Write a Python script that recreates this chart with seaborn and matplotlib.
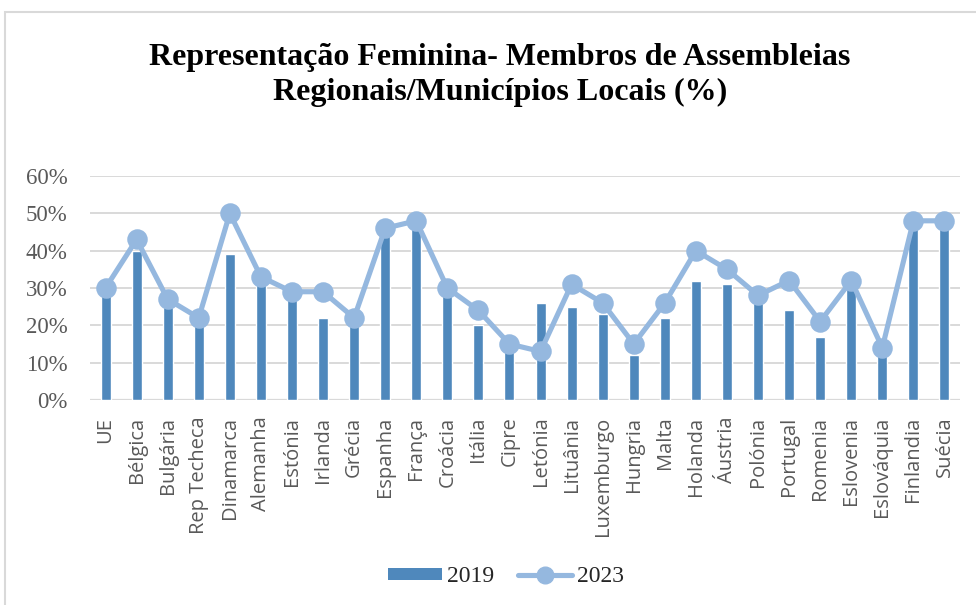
import matplotlib
matplotlib.use("Agg")
import matplotlib.pyplot as plt
import seaborn as sns
import pandas as pd
from matplotlib.patches import Patch, Rectangle
from matplotlib.lines import Line2D
from matplotlib.ticker import PercentFormatter

paises = ["UE", "Bélgica", "Bulgária", "Rep Techeca", "Dinamarca", "Alemanha", "Estónia",
          "Irlanda", "Grécia", "Espanha", "França", "Croácia", "Itália", "Cipre", "Letónia",
          "Lituânia", "Luxemburgo", "Hungria", "Malta", "Holanda", "Áustria", "Polónia",
          "Portugal", "Romenia", "Eslovenia", "Eslováquia", "Finlandia", "Suécia"]
v2019 = [28, 40, 25, 21, 39, 31, 29, 22, 21, 45, 47, 28, 20, 14, 26, 25, 23, 12, 22, 32,
         31, 26, 24, 17, 30, 13, 47, 47]
v2023 = [30, 43, 27, 22, 50, 33, 29, 29, 22, 46, 48, 30, 24, 15, 13, 31, 26, 15, 26, 40,
         35, 28, 32, 21, 32, 14, 48, 48]
titulo = "Representação Feminina- Membros de Assembleias\nRegionais/Municípios Locais (%)"
series = ["2019", "2023"]

df = pd.DataFrame({"pais": paises, "v2019": v2019, "v2023": v2023})

sns.set_theme(style="white")
plt.rcParams["font.family"] = ["Liberation Serif", "DejaVu Serif"]

bar_color = "#4F88BC"
line_color = "#95B8DF"

fig = plt.figure(figsize=(9.76, 6.05), dpi=100)
fig.patch.set_facecolor("white")
ax = fig.add_axes([90/976, 1-400/605, 870/976, 224/605])

sns.barplot(data=df, x="pais", y="v2019", color=bar_color, width=0.32,
            saturation=1, ax=ax, zorder=2)
sns.pointplot(data=df, x="pais", y="v2023", color=line_color, markers="o",
              markersize=12, linewidth=3.7, ax=ax, zorder=3)

ax.set_ylim(0, 60)
ax.set_xlim(-0.5, len(paises) - 0.5)
ax.set_yticks(range(0, 61, 10))
ax.yaxis.set_major_formatter(PercentFormatter(decimals=0))
ax.grid(axis="y", color="#D9D9D9", linewidth=1.4, zorder=0)
ax.set_axisbelow(True)
for s in ["top", "right", "left", "bottom"]:
    ax.spines[s].set_visible(False)
ax.axhline(0, color="#D9D9D9", linewidth=1.6, zorder=1)
ax.set_xlabel("")
ax.set_ylabel("")
ax.tick_params(axis="y", labelsize=16.5, labelcolor="#595959", length=0, pad=16)
ax.tick_params(axis="x", labelsize=14.5, labelcolor="#595959", length=0, pad=12)
for lab in ax.get_xticklabels():
    lab.set_rotation(90)
    lab.set_fontfamily(["Open Sans", "DejaVu Sans"])

fig.text(500/976, 1-75/605, titulo, ha="center", va="center", fontsize=23,
         fontweight="bold", linespacing=1.28, color="black")

handles = [Patch(facecolor=bar_color, edgecolor="none"),
           Line2D([0], [0], color=line_color, linewidth=3.7, marker="o", markersize=12)]
fig.legend(handles, series, loc="center", bbox_to_anchor=(506/976, 1-577/605), ncol=2,
           frameon=False, fontsize=17, handlelength=2.3, handleheight=0.45,
           columnspacing=1.0, handletextpad=0.2)

fig.patches.append(Rectangle((5/976, -0.05), 1.2, 1.05-12/605, transform=fig.transFigure,
                             fill=False, edgecolor="#D9D9D9", linewidth=1.5, zorder=0))

fig.savefig("out.png", dpi=100)
